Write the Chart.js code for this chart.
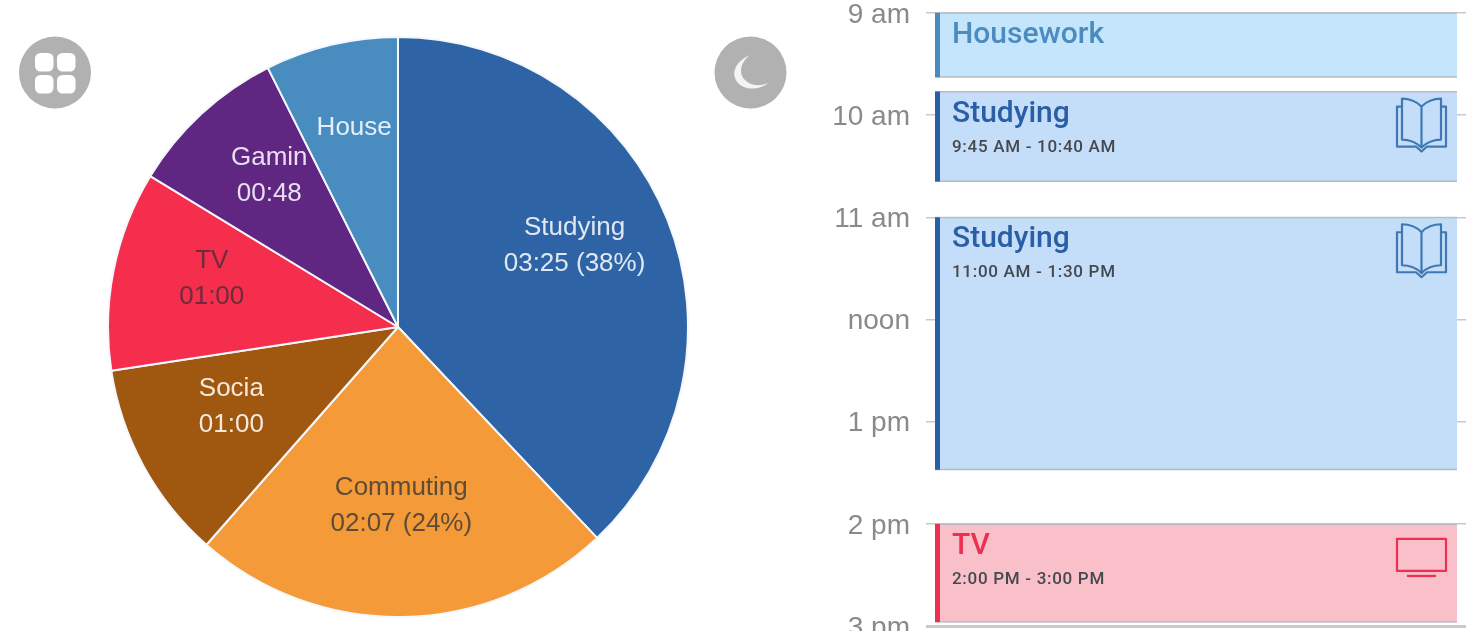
<!DOCTYPE html>
<html>
<head>
<meta charset="utf-8">
<style>
html,body{margin:0;padding:0;background:#fff;width:1466px;height:631px;overflow:hidden}
#pieWrap{position:absolute;left:107px;top:36px;width:582px;height:582px}
#calWrap{position:absolute;left:800px;top:-33px;width:666px;height:697px}
canvas{filter:blur(0.5px)}
svg{position:absolute;left:0;top:0;filter:blur(0.6px)}
</style>
<script src="https://cdn.jsdelivr.net/npm/chart.js@4/dist/chart.umd.min.js"></script>
</head>
<body>
<svg width="800" height="130" viewBox="0 0 800 130">
  <circle cx="55" cy="72.5" r="36" fill="#b1b1b1"/>
  <rect x="35" y="53" width="18.5" height="18.5" rx="5.5" fill="#fff"/>
  <rect x="57" y="53" width="18.5" height="18.5" rx="5.5" fill="#fff"/>
  <rect x="35" y="75" width="18.5" height="18.5" rx="5.5" fill="#fff"/>
  <rect x="57" y="75" width="18.5" height="18.5" rx="5.5" fill="#fff"/>
  <circle cx="750.5" cy="72.5" r="36" fill="#b1b1b1"/>
  <path d="M750,55 C738,60 732,70 735,78 C739,90 758,92 768,83 C757,88 746,84 742,76 C739,69 743,60 750,55 Z" fill="#f4f4f4"/>
</svg>
<div id="pieWrap"><canvas id="pie"></canvas></div>
<div id="calWrap"><canvas id="cal"></canvas></div>
<script>
// ---- pie data (minutes)
const sliceNames = ['Studying', 'Commuting', 'Socia', 'TV', 'Gamin', 'House'];
const sliceMinutes = [205, 127, 60, 60, 48, 40];
const sliceSub = ['03:25 (38%)', '02:07 (24%)', '01:00', '01:00', '00:48', ''];
const sliceColors = ['#2e63a6', '#f59a38', '#a0570f', '#f52e4e', '#5f2682', '#488cc0'];
const sliceText = ['#dfe8f3', '#5e4c38', '#f5e9dc', '#6e2b3c', '#eadff2', '#e3eff8'];

// ---- calendar data (hours of day)
const hourTicks = [9, 9.5, 10, 10.5, 11, 11.5, 12, 12.5, 13, 13.5, 14, 14.5, 15];
const hourLabels = ['9 am', '', '10 am', '', '11 am', '', 'noon', '', '1 pm', '', '2 pm', '', '3 pm'];
const eventNames = ['Housework', 'Studying', 'Studying', 'TV'];
const eventTimes = ['', '9:45 AM - 10:40 AM', '11:00 AM - 1:30 PM', '2:00 PM - 3:00 PM'];
const eventStart = [9, 9.77, 11, 14];
const eventEnd = [9.63, 10.65, 13.47, 14.96];
const eventFill = ['#c5e5fd', '#c4ddf8', '#c4ddf8', '#fac0ca'];
const eventAccent = ['#4a8cc0', '#2a5ea6', '#2a5ea6', '#ee2f4f'];
const eventTitleColor = ['#4a8cc0', '#2a5ea6', '#2a5ea6', '#ee2f4f'];
const eventIconColor = ['#4a8cc0', '#3f78b3', '#3f78b3', '#ee2f4f'];
const eventIcon = ['', 'book', 'book', 'tv'];

const pieLabels = {
  id: 'pieLabels',
  afterDatasetsDraw(chart) {
    const ctx = chart.ctx;
    const arcs = chart.getDatasetMeta(0).data;
    ctx.save();
    ctx.font = '26px "Liberation Sans", Arial, sans-serif';
    ctx.textAlign = 'center';
    ctx.textBaseline = 'middle';
    arcs.forEach((arc, i) => {
      const mid = (arc.startAngle + arc.endAngle) / 2;
      const r = arc.outerRadius * 0.655;
      const x = arc.x + Math.cos(mid) * r;
      const y = arc.y + Math.sin(mid) * r - 14;
      ctx.fillStyle = sliceText[i];
      if (sliceSub[i]) {
        ctx.fillText(sliceNames[i], x, y - 15);
        ctx.fillText(sliceSub[i], x, y + 21);
      } else {
        ctx.fillText(sliceNames[i], x, y);
      }
    });
    ctx.restore();
  }
};

new Chart(document.getElementById('pie'), {
  type: 'pie',
  data: {
    labels: sliceNames,
    datasets: [{
      data: sliceMinutes,
      backgroundColor: sliceColors,
      borderColor: '#f4f7fb',
      borderWidth: 2
    }]
  },
  options: {
    responsive: true,
    maintainAspectRatio: false,
    animation: false,
    layout: { padding: 0 },
    plugins: { legend: { display: false }, tooltip: { enabled: false } }
  },
  plugins: [pieLabels]
});

function drawBook(ctx, x, y) {
  ctx.beginPath();
  // left page
  ctx.moveTo(x + 25.5, y + 9);
  ctx.bezierCurveTo(x + 21, y + 4, x + 13, y + 1, x + 6, y + 1);
  ctx.lineTo(x + 6, y + 42);
  ctx.bezierCurveTo(x + 13, y + 42, x + 21, y + 45, x + 25.5, y + 50);
  // right page
  ctx.moveTo(x + 25.5, y + 9);
  ctx.bezierCurveTo(x + 30, y + 4, x + 38, y + 1, x + 45, y + 1);
  ctx.lineTo(x + 45, y + 42);
  ctx.bezierCurveTo(x + 38, y + 42, x + 30, y + 45, x + 25.5, y + 50);
  ctx.lineTo(x + 25.5, y + 9);
  // cover
  ctx.moveTo(x + 6, y + 9);
  ctx.lineTo(x + 1, y + 9);
  ctx.lineTo(x + 1, y + 49);
  ctx.lineTo(x + 20, y + 49);
  ctx.lineTo(x + 25.5, y + 54);
  ctx.lineTo(x + 31, y + 49);
  ctx.lineTo(x + 50, y + 49);
  ctx.lineTo(x + 50, y + 9);
  ctx.lineTo(x + 45, y + 9);
  ctx.stroke();
}
function drawTv(ctx, x, y) {
  ctx.strokeRect(x + 1, y + 1, 49, 32);
  ctx.beginPath();
  ctx.moveTo(x + 11, y + 38);
  ctx.lineTo(x + 40, y + 38);
  ctx.stroke();
}

const eventDecor = {
  id: 'eventDecor',
  afterDatasetsDraw(chart) {
    const ctx = chart.ctx;
    eventNames.forEach((name, i) => {
      const el = chart.getDatasetMeta(i).data[0];
      const left = el.x - el.width / 2;
      const right = el.x + el.width / 2;
      const top = Math.min(el.y, el.base);
      const bottom = Math.max(el.y, el.base);
      ctx.save();
      // edges and accent stripe
      ctx.fillStyle = '#b6bcc4';
      ctx.fillRect(left, top - 0.5, el.width, 1.5);
      ctx.fillRect(left, bottom - 1, el.width, 1.5);
      ctx.fillStyle = eventAccent[i];
      ctx.fillRect(left, top, 5, bottom - top);
      // title
      ctx.textBaseline = 'alphabetic';
      ctx.fillStyle = eventTitleColor[i];
      ctx.font = '500 30px Roboto, sans-serif';
      ctx.fillText(name, left + 17, top + 30);
      if (eventTimes[i]) {
        ctx.fillStyle = '#45494f';
        ctx.font = '500 17px Roboto, sans-serif';
        ctx.letterSpacing = '0.7px';
        ctx.fillText(eventTimes[i], left + 17, top + 60);
        ctx.letterSpacing = '0px';
      }
      // icon
      ctx.strokeStyle = eventIconColor[i];
      ctx.lineWidth = 2.2;
      ctx.lineJoin = 'round';
      if (eventIcon[i] === 'book') drawBook(ctx, right - 61, top + 6);
      if (eventIcon[i] === 'tv') drawTv(ctx, right - 61, top + 14);
      ctx.restore();
    });
  }
};

const PX_PER_HOUR = 102.17;
new Chart(document.getElementById('cal'), {
  type: 'bar',
  data: {
    labels: ['Day'],
    datasets: eventNames.map((name, i) => ({
      label: name,
      data: [[eventStart[i], eventEnd[i]]],
      backgroundColor: eventFill[i],
      borderWidth: 0,
      grouped: false,
      barPercentage: 522 / 540,
      categoryPercentage: 1
    }))
  },
  options: {
    responsive: true,
    maintainAspectRatio: false,
    animation: false,
    layout: { padding: 0 },
    plugins: { legend: { display: false }, tooltip: { enabled: false } },
    scales: {
      x: {
        display: false,
        grid: { display: false }
      },
      y: {
        reverse: true,
        min: 9 - 13 / PX_PER_HOUR,
        max: 15 + 5 / PX_PER_HOUR,
        border: { display: false },
        afterBuildTicks(scale) {
          scale.ticks = [scale.min].concat(hourTicks, [scale.max]).map(v => ({ value: v }));
        },
        afterFit(scale) { scale.width = 126; },
        grid: {
          drawTicks: false,
          lineWidth: ctx => {
            const v = ctx.tick && ctx.tick.value;
            return v === 15 ? 3 : 1.5;
          },
          color: ctx => {
            const v = ctx.tick && ctx.tick.value;
            if (hourTicks.indexOf(v) < 0) return 'rgba(0,0,0,0)';
            return Number.isInteger(v) ? '#c9c9c9' : '#e6e6e6';
          }
        },
        ticks: {
          autoSkip: false,
          padding: 16,
          labelOffset: 2,
          color: '#8a8a8a',
          font: { family: '"Liberation Sans", Arial, sans-serif', size: 28 },
          callback(value) {
            const i = hourTicks.indexOf(value);
            return i >= 0 && hourLabels[i] ? hourLabels[i] : null;
          }
        }
      }
    }
  },
  plugins: [eventDecor]
});
</script>
</body>
</html>
